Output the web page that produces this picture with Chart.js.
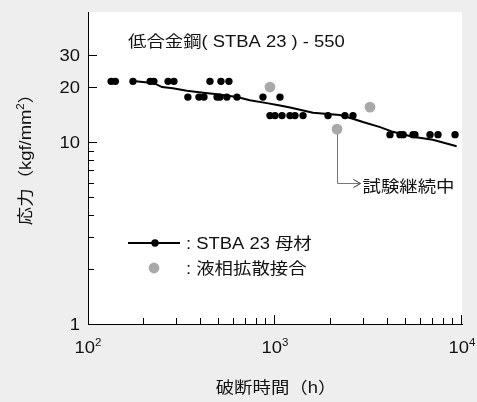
<!DOCTYPE html>
<html>
<head>
<meta charset="utf-8">
<script src="https://cdn.jsdelivr.net/npm/chart.js@4.4.0/dist/chart.umd.min.js"></script>
<style>
  html, body { margin: 0; padding: 0; background: #eeeeee; }
  #wrap { width: 477px; height: 402px; }
</style>
</head>
<body>
<div id="wrap"><canvas id="creepChart"></canvas></div>
<script>
// STBA 23 base metal rupture points (hours, kgf/mm2)
const baseHours = [133, 140, 174, 215, 225, 268, 288, 449, 514, 567,
                   342, 392, 417, 490, 508, 553, 626, 862, 1063,
                   940, 1000, 1090, 1202, 1279, 1412, 1920, 2366, 2612,
                   4120, 4660, 4850, 5470, 5600, 6745, 7440, 9180];
const baseStress = [21.6, 21.6, 21.6, 21.6, 21.6, 21.6, 21.6, 21.6, 21.6, 21.6,
                    17.7, 17.7, 17.7, 17.7, 17.7, 17.7, 17.7, 17.7, 17.7,
                    14, 14, 14, 14, 14, 14, 14, 14, 14,
                    11, 11, 11, 11, 11, 11, 11, 11];

// trend line through base metal data
const fitHours = [174, 215, 228, 249, 284, 338, 413, 477, 626, 734, 905, 1063,
                  1204, 1597, 2221, 2580, 2953, 3650, 4270, 5450, 6985, 9360];
const fitStress = [21.7, 21.2, 21.0, 20.1, 19.8, 19.2, 18.7, 18.4, 17.7, 17.0, 16.4, 15.9,
                   15.5, 14.5, 14.1, 13.5, 12.9, 12.1, 11.4, 10.7, 10.3, 9.5];

// liquid phase diffusion bonded joints
const bondHours = [940, 2146, 3220];
const bondStress = [20.1, 11.8, 15.6];
const runningIndex = 1;      // test still running
const noteStress = 6;        // level of the note arrow

const yTickValues = [1, 10, 20, 30];
const yMinorValues = [2, 3, 4, 5, 6, 7, 8, 9];
const xTickValues = [100, 1000, 10000];
const xTickExponents = ['2', '3', '4'];
const xMinorValues = [200, 300, 400, 500, 600, 700, 800, 900,
                      2000, 3000, 4000, 5000, 6000, 7000, 8000, 9000];

const FONT = '"Liberation Sans", "Noto Sans CJK JP", sans-serif';
const STRETCH = 1.15;
const GRAY = '#a9a9a9';

// draws text made of pieces [text, size, rise], stretched a bit sideways
function drawPieces(ctx, pieces, x, y, align, rotate) {
  ctx.save();
  ctx.translate(x, y);
  if (rotate) ctx.rotate(-Math.PI / 2);
  ctx.scale(STRETCH, 1);
  let total = 0;
  const widths = pieces.map(p => {
    ctx.font = p[1] + 'px ' + FONT;
    const w = ctx.measureText(p[0]).width;
    total += w;
    return w;
  });
  let cx = align === 'center' ? -total / 2 : align === 'right' ? -total : 0;
  ctx.textAlign = 'left';
  ctx.textBaseline = 'alphabetic';
  ctx.fillStyle = '#111';
  pieces.forEach((p, i) => {
    ctx.font = p[1] + 'px ' + FONT;
    ctx.fillText(p[0], cx, p[2] || 0);
    cx += widths[i];
  });
  ctx.restore();
}

const backdrop = {
  id: 'backdrop',
  beforeDraw(chart) {
    const { ctx, chartArea: a } = chart;
    ctx.save();
    ctx.fillStyle = '#eeeeee';
    ctx.fillRect(0, 0, chart.width, chart.height);
    ctx.fillStyle = '#ffffff';
    ctx.fillRect(a.left, a.top, a.right - a.left, a.bottom - a.top);
    ctx.restore();
  }
};

const decorations = {
  id: 'decorations',
  afterDraw(chart) {
    const { ctx, chartArea: a } = chart;
    const xs = chart.scales.x, ys = chart.scales.y;

    // inward tick marks
    ctx.save();
    ctx.strokeStyle = '#000';
    ctx.lineWidth = 1;
    ctx.beginPath();
    yMinorValues.concat(yTickValues.slice(1)).forEach(v => {
      const py = Math.round(ys.getPixelForValue(v)) + 0.5;
      const len = yMinorValues.includes(v) ? 6 : 9;
      ctx.moveTo(a.left, py);
      ctx.lineTo(a.left + len, py);
    });
    xMinorValues.concat(xTickValues.slice(1)).forEach(v => {
      const px = Math.round(xs.getPixelForValue(v)) - 0.5;
      const len = xMinorValues.includes(v) ? 6 : 9;
      ctx.moveTo(px, a.bottom);
      ctx.lineTo(px, a.bottom - len);
    });
    ctx.stroke();
    ctx.restore();

    // tick labels
    yTickValues.forEach(v => {
      drawPieces(ctx, [[String(v), 16]], 80, ys.getPixelForValue(v) + 6, 'right');
    });
    xTickValues.forEach((v, i) => {
      drawPieces(ctx, [['10', 16], [xTickExponents[i], 10, -7]], xs.getPixelForValue(v), 353, 'center');
    });

    // axis titles
    drawPieces(ctx, [['破断時間（h）', 16]], (a.left + a.right) / 2 + 1, 393, 'center');
    ctx.save();
    ctx.translate(31, 155);
    drawPieces(ctx, [['応力（kgf/mm', 16], ['2', 10, -7], ['）', 16]], 0, 0, 'center', true);
    ctx.restore();

    // chart heading
    drawPieces(ctx, [['低合金鋼( STBA 23 ) - 550', 16]], 128, 46.5, 'left');

    // legend
    ctx.save();
    ctx.strokeStyle = '#000';
    ctx.lineWidth = 2;
    ctx.beginPath();
    ctx.moveTo(128, 243);
    ctx.lineTo(180, 243);
    ctx.stroke();
    ctx.fillStyle = '#000';
    ctx.beginPath();
    ctx.arc(155, 243, 3.7, 0, Math.PI * 2);
    ctx.fill();
    ctx.fillStyle = GRAY;
    ctx.beginPath();
    ctx.arc(154, 268, 5.4, 0, Math.PI * 2);
    ctx.fill();
    ctx.restore();
    drawPieces(ctx, [[': STBA 23 母材', 16]], 186, 249, 'left');
    drawPieces(ctx, [[': 液相拡散接合', 16]], 186, 274, 'left');

    // note for the running test
    const px = Math.round(xs.getPixelForValue(bondHours[runningIndex])) + 0.5;
    const py = ys.getPixelForValue(bondStress[runningIndex]) + 5;
    const cy = Math.round(ys.getPixelForValue(noteStress)) + 0.5;
    ctx.save();
    ctx.strokeStyle = '#777';
    ctx.lineWidth = 1;
    ctx.beginPath();
    ctx.moveTo(px, py);
    ctx.lineTo(px, cy);
    ctx.lineTo(px + 22, cy);
    ctx.stroke();
    ctx.strokeStyle = '#333';
    ctx.beginPath();
    ctx.moveTo(px + 16, cy - 4);
    ctx.lineTo(px + 23, cy);
    ctx.lineTo(px + 16, cy + 4);
    ctx.stroke();
    ctx.restore();
    drawPieces(ctx, [['試験継続中', 16]], px + 25, cy + 8, 'left');
  }
};

const toPoints = (xsArr, ysArr) => xsArr.map((x, i) => ({ x: x, y: ysArr[i] }));

new Chart(document.getElementById('creepChart'), {
  type: 'scatter',
  data: {
    datasets: [
      {
        label: 'STBA 23 母材',
        data: toPoints(baseHours, baseStress),
        backgroundColor: '#000',
        borderColor: '#000',
        pointRadius: 3.7,
        pointBorderWidth: 0
      },
      {
        type: 'line',
        label: 'fit',
        data: toPoints(fitHours, fitStress),
        borderColor: '#000',
        borderWidth: 2,
        pointRadius: 0,
        tension: 0,
        fill: false
      },
      {
        label: '液相拡散接合',
        data: toPoints(bondHours, bondStress),
        backgroundColor: GRAY,
        borderColor: GRAY,
        pointRadius: 5.4,
        pointBorderWidth: 0
      }
    ]
  },
  options: {
    responsive: true,
    maintainAspectRatio: false,
    animation: false,
    layout: { padding: { top: 12, right: 15, left: 0, bottom: 0 } },
    plugins: { legend: { display: false }, tooltip: { enabled: false } },
    scales: {
      x: {
        type: 'logarithmic',
        min: 100,
        max: 10000,
        grid: { display: false, drawTicks: false },
        ticks: { display: false },
        border: { display: true, color: '#000', width: 1 },
        afterFit: s => { s.height = 78; }
      },
      y: {
        type: 'logarithmic',
        min: 1,
        max: 52,
        grid: { display: false, drawTicks: false },
        ticks: { display: false },
        border: { display: true, color: '#000', width: 1 },
        afterFit: s => { s.width = 88; }
      }
    }
  },
  plugins: [backdrop, decorations]
});
</script>
</body>
</html>
